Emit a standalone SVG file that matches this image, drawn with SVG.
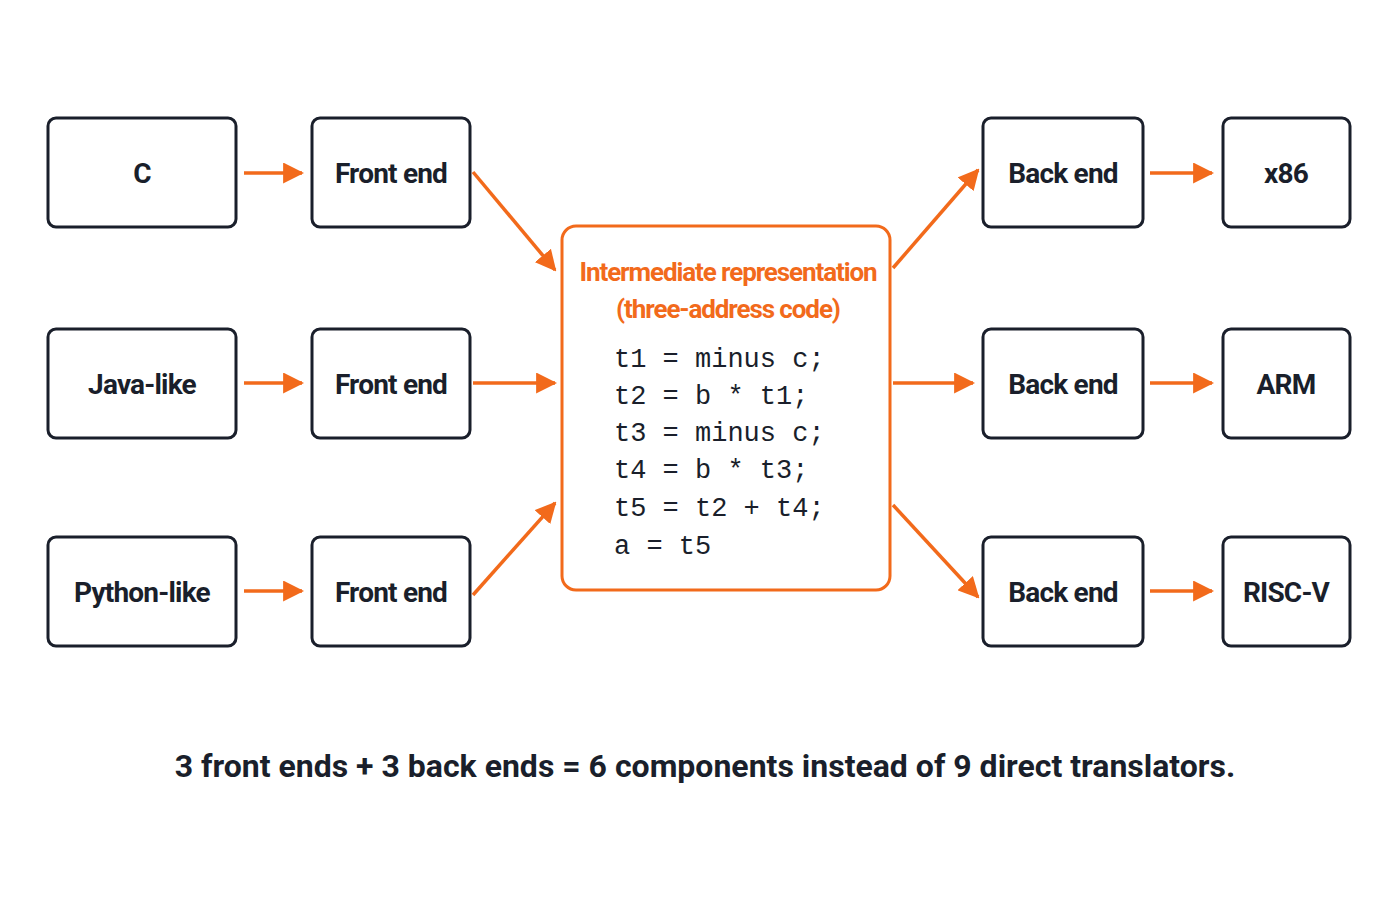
<svg xmlns="http://www.w3.org/2000/svg" width="1400" height="900" viewBox="0 0 1400 900">
<defs>
<style>
.b{fill:#fff;stroke:#1a1f2b;stroke-width:3}
.t{font-family:"Roboto","Liberation Sans",sans-serif;font-weight:bold;font-size:28px;fill:#1a1f2b;text-anchor:middle;letter-spacing:-0.8px}
.c{fill:none;stroke:#f26a1b;stroke-width:3.5}
.code{font-family:"Liberation Mono",monospace;font-size:27px;fill:#1a1f2b}
</style>
<marker id="ah" viewBox="0 0 10 10" refX="9" refY="5" markerWidth="6" markerHeight="6" orient="auto" markerUnits="strokeWidth"><path d="M0,0 L10,5 L0,10 z" fill="#f26a1b"/></marker>
</defs>
<rect width="1400" height="900" fill="#fff"/>
<g id="n_c"><rect class="b" x="48" y="118" width="188" height="109" rx="8"/><text class="t" x="142" y="183">C</text></g>
<g id="n_java"><rect class="b" x="48" y="329" width="188" height="109" rx="8"/><text class="t" x="142" y="394">Java-like</text></g>
<g id="n_py"><rect class="b" x="48" y="537" width="188" height="109" rx="8"/><text class="t" x="142" y="602">Python-like</text></g>
<g id="fe1"><rect class="b" x="312" y="118" width="158" height="109" rx="8"/><text class="t" x="391" y="183">Front end</text></g>
<g id="fe2"><rect class="b" x="312" y="329" width="158" height="109" rx="8"/><text class="t" x="391" y="394">Front end</text></g>
<g id="fe3"><rect class="b" x="312" y="537" width="158" height="109" rx="8"/><text class="t" x="391" y="602">Front end</text></g>
<g id="ir"><rect x="562" y="226" width="328" height="364" rx="14" fill="#fff" stroke="#f26a1b" stroke-width="3"/>
<text class="t" x="728" y="281" style="fill:#f26a1b;font-size:26px;letter-spacing:-1.1px">Intermediate representation</text>
<text class="t" x="728" y="318" style="fill:#f26a1b;font-size:26px;letter-spacing:-1.1px">(three-address code)</text>
<text class="code" x="614" y="367">t1 = minus c;</text>
<text class="code" x="614" y="404">t2 = b * t1;</text>
<text class="code" x="614" y="441">t3 = minus c;</text>
<text class="code" x="614" y="478">t4 = b * t3;</text>
<text class="code" x="614" y="516">t5 = t2 + t4;</text>
<text class="code" x="614" y="554">a = t5</text></g>
<g id="be1"><rect class="b" x="983" y="118" width="160" height="109" rx="8"/><text class="t" x="1063" y="183">Back end</text></g>
<g id="be2"><rect class="b" x="983" y="329" width="160" height="109" rx="8"/><text class="t" x="1063" y="394">Back end</text></g>
<g id="be3"><rect class="b" x="983" y="537" width="160" height="109" rx="8"/><text class="t" x="1063" y="602">Back end</text></g>
<g id="x86"><rect class="b" x="1223" y="118" width="127" height="109" rx="8"/><text class="t" x="1286" y="183">x86</text></g>
<g id="arm"><rect class="b" x="1223" y="329" width="127" height="109" rx="8"/><text class="t" x="1286" y="394">ARM</text></g>
<g id="risc"><rect class="b" x="1223" y="537" width="127" height="109" rx="8"/><text class="t" x="1286" y="602">RISC-V</text></g>
<g id="connectors">
<line class="c" x1="244" y1="173" x2="302" y2="173" marker-end="url(#ah)"/>
<line class="c" x1="244" y1="383" x2="302" y2="383" marker-end="url(#ah)"/>
<line class="c" x1="244" y1="591" x2="302" y2="591" marker-end="url(#ah)"/>
<line class="c" x1="473" y1="172" x2="555" y2="270" marker-end="url(#ah)"/>
<line class="c" x1="473" y1="383" x2="555" y2="383" marker-end="url(#ah)"/>
<line class="c" x1="473" y1="595" x2="555" y2="503" marker-end="url(#ah)"/>
<line class="c" x1="893" y1="268" x2="978" y2="170" marker-end="url(#ah)"/>
<line class="c" x1="893" y1="383" x2="973" y2="383" marker-end="url(#ah)"/>
<line class="c" x1="893" y1="505" x2="978" y2="597" marker-end="url(#ah)"/>
<line class="c" x1="1150" y1="173" x2="1212" y2="173" marker-end="url(#ah)"/>
<line class="c" x1="1150" y1="383" x2="1212" y2="383" marker-end="url(#ah)"/>
<line class="c" x1="1150" y1="591" x2="1212" y2="591" marker-end="url(#ah)"/>
</g>
<text class="t" x="705" y="777" style="font-size:32px;letter-spacing:0px">3 front ends + 3 back ends = 6 components instead of 9 direct translators.</text>
</svg>
